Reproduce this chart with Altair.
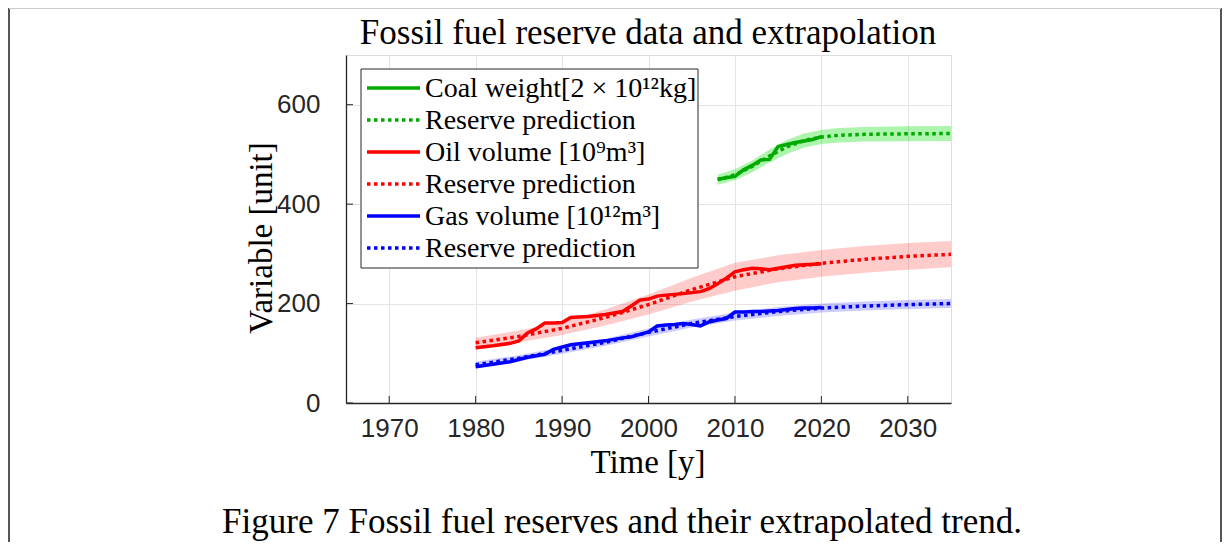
import altair as alt
import pandas as pd

# ---------------- data ----------------
coal_years = [2008, 2009, 2010, 2011, 2012, 2013, 2014, 2015, 2016, 2017, 2018, 2019, 2020]
coal_vals = [450, 453, 456, 469, 478, 489, 490, 516, 520, 524, 527, 530, 536]

coal_pred_years = [2008, 2010, 2012, 2014, 2016, 2018, 2020, 2022, 2025, 2030, 2035]
coal_pred = [449, 459, 476, 497, 515, 528, 535, 538.5, 540.5, 541.5, 542]
coal_lo = [439, 448, 464, 484, 501, 514, 521, 524, 526, 526.5, 527]
coal_hi = [459, 470, 488, 510, 529, 542, 549, 553, 555, 556.5, 557]

oil_years = [1980, 1982, 1984, 1985, 1986, 1987, 1988, 1989, 1990, 1991, 1993, 1995,
             1997, 1998, 1999, 2000, 2001, 2002, 2004, 2006, 2007, 2008, 2009, 2010,
             2011, 2012, 2013, 2014, 2015, 2016, 2017, 2018, 2019, 2020]
oil_vals = [111, 115, 120, 125, 141, 149, 161, 161, 162, 172, 174, 178,
            184, 195, 207, 209, 215, 217, 220, 224, 230, 240, 251, 264,
            268, 271, 270, 268, 271, 274, 277, 278, 279, 280]

oil_pred_years = [1980, 1985, 1990, 1995, 2000, 2005, 2010, 2015, 2020, 2025, 2030, 2035]
oil_pred = [121, 134, 150, 172, 198, 228, 254, 270, 281, 289, 295, 299]
oil_lo = [111, 122, 137, 156, 178, 204, 226, 243, 254, 262, 268, 273]
oil_hi = [131, 146, 163, 188, 218, 252, 282, 297, 308, 316, 322, 326]

gas_years = [1980, 1982, 1984, 1986, 1988, 1989, 1991, 1993, 1995, 1997, 1998, 1999,
             2000, 2001, 2002, 2003, 2004, 2005, 2006, 2007, 2008, 2009, 2010, 2011,
             2012, 2013, 2014, 2015, 2016, 2017, 2018, 2019, 2020]
gas_vals = [73, 78, 83, 92, 98, 108, 117, 121, 125, 131, 133, 138,
            143, 155, 157, 158, 160, 158, 155, 163, 167, 170, 183, 183,
            184, 184, 185, 186, 188, 190, 191, 191, 192]

gas_pred_years = [1980, 1985, 1990, 1995, 2000, 2005, 2010, 2015, 2020, 2025, 2030, 2035]
gas_pred = [77, 90, 106, 122, 142, 160, 174, 184, 191, 195, 198, 200]
gas_lo = [71, 84, 99, 115, 134, 152, 166, 175, 182, 186, 189, 191]
gas_hi = [83, 96, 113, 129, 150, 168, 182, 193, 200, 204, 207, 209]

x_ticks = [1970, 1980, 1990, 2000, 2010, 2020, 2030]
y_ticks = [0, 200, 400, 600]

legend_labels = ["Coal weight[2 × 10¹²kg]", "Reserve prediction",
                 "Oil volume [10⁹m³]", "Reserve prediction",
                 "Gas volume [10¹²m³]", "Reserve prediction"]
legend_colors = ["#00aa00", "#00aa00", "#ff0000", "#ff0000", "#0000ff", "#0000ff"]
legend_dotted = [False, True, False, True, False, True]

title_text = "Fossil fuel reserve data and extrapolation"
x_title = "Time [y]"
y_title = "Variable [unit]"
caption = "Figure 7 Fossil fuel reserves and their extrapolated trend."

# ---------------- styling ----------------
W, H = 605, 348
SERIF = "Liberation Serif"
SANS = "Liberation Sans"
AXC = "#262626"
GRID = "#e4e4e4"

xscale = alt.Scale(domain=[1965, 2035], nice=False, zero=False)
yscale = alt.Scale(domain=[0, 700], nice=False)
xaxis = alt.Axis(values=x_ticks, format="d", title=None, labelFont=SANS, labelFontSize=26,
                 labelColor=AXC, labelPadding=12, ticks=False, tickSize=0, domainColor=AXC,
                 domainWidth=1.3, grid=True, gridColor=GRID, gridWidth=1, labelFlush=False)
yaxis = alt.Axis(values=y_ticks, title=None, labelFont=SANS, labelFontSize=26,
                 labelColor=AXC, labelPadding=26, ticks=False, tickSize=0, domainColor=AXC,
                 domainWidth=1.3, grid=True, gridColor=GRID, gridWidth=1, labelFlush=False)

X = alt.X("year:Q", scale=xscale, axis=xaxis)
Y = alt.Y("value:Q", scale=yscale, axis=yaxis)


def obs_df(years, vals):
    return pd.DataFrame({"year": years, "value": vals})


def pred_df(years, pred, lo, hi):
    return pd.DataFrame({"year": years, "value": pred, "lo": lo, "hi": hi})


series = [
    (obs_df(coal_years, coal_vals), pred_df(coal_pred_years, coal_pred, coal_lo, coal_hi),
     "#00aa00", "#00dd00", 0.32),
    (obs_df(oil_years, oil_vals), pred_df(oil_pred_years, oil_pred, oil_lo, oil_hi),
     "#ff0000", "#ff0000", 0.2),
    (obs_df(gas_years, gas_vals), pred_df(gas_pred_years, gas_pred, gas_lo, gas_hi),
     "#0000ff", "#0000ff", 0.2),
]

layers = []
for obs, pred, col, bandcol, op in series:
    layers.append(
        alt.Chart(pred).mark_area(color=bandcol, opacity=op, clip=True).encode(
            x=X, y=alt.Y("lo:Q", scale=yscale, axis=yaxis), y2="hi:Q"))
for obs, pred, col, bandcol, op in series:
    layers.append(alt.Chart(obs).mark_line(color=col, strokeWidth=3.5, clip=True).encode(x=X, y=Y))
    layers.append(alt.Chart(pred).mark_line(color=col, strokeWidth=3.5, strokeDash=[3.5, 3.5],
                                            clip=True).encode(x=X, y=Y))

# inward ticks (MATLAB style)
xt = pd.DataFrame({"year": x_ticks})
yt = pd.DataFrame({"value": y_ticks})
layers.append(alt.Chart(xt).mark_rule(color=AXC, strokeWidth=1).encode(
    x=X, y=alt.value(H), y2=alt.value(H - 7)))
layers.append(alt.Chart(yt).mark_rule(color=AXC, strokeWidth=1).encode(
    y=Y, x=alt.value(0), x2=alt.value(7)))

# legend
one = pd.DataFrame({"k": [0]})
layers.append(alt.Chart(one).mark_rect(fill="white", stroke=AXC, strokeWidth=1).encode(
    x=alt.value(15), x2=alt.value(352), y=alt.value(14), y2=alt.value(213)))
for i, (lab, col, dot) in enumerate(zip(legend_labels, legend_colors, legend_dotted)):
    yy = 33 + 32 * i
    kw = dict(color=col, strokeWidth=3.5)
    if dot:
        kw["strokeDash"] = [3.5, 3.5]
    layers.append(alt.Chart(one).mark_rule(**kw).encode(
        x=alt.value(21), x2=alt.value(74), y=alt.value(yy)))
    layers.append(alt.Chart(pd.DataFrame({"t": [lab]})).mark_text(
        align="left", baseline="middle", font=SERIF, fontSize=28, color="black").encode(
        text="t:N", x=alt.value(79), y=alt.value(yy + 1)))

# titles and caption
def txt(s, x, y, size, angle=0):
    return alt.Chart(pd.DataFrame({"t": [s]})).mark_text(
        align="center", baseline="middle", font=SERIF, fontSize=size, color="black",
        angle=angle).encode(text="t:N", x=alt.value(x), y=alt.value(y))

layers.append(txt(title_text, 302, -22, 35))
layers.append(txt(x_title, 302, 408, 33))
layers.append(txt(y_title, -84, 183, 33, angle=270))
layers.append(txt(caption, 276, 467, 35))

# page frame
layers.append(alt.Chart(one).mark_rule(color="#555555", strokeWidth=2).encode(
    x=alt.value(-337), y=alt.value(-47), y2=alt.value(487)))
layers.append(alt.Chart(one).mark_rule(color="#555555", strokeWidth=2).encode(
    x=alt.value(875), y=alt.value(-47), y2=alt.value(487)))
layers.append(alt.Chart(one).mark_rule(color="#cccccc", strokeWidth=1).encode(
    y=alt.value(-46.5), x=alt.value(-337), x2=alt.value(875)))

chart = alt.layer(*layers).properties(
    width=W, height=H,
    autosize=alt.AutoSizeParams(type="none"),
    padding={"left": 338, "top": 47, "right": 271, "bottom": 140},
).configure_view(stroke=None).configure(background="white")

chart.save("out.html", embed_options={"renderer": "svg", "actions": False})
